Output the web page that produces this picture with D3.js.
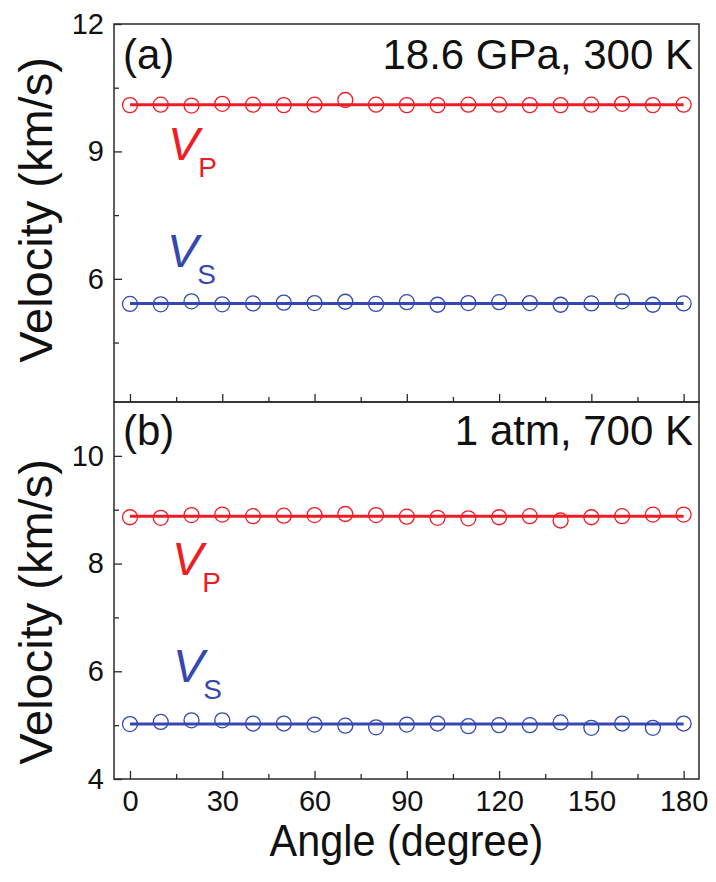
<!DOCTYPE html>
<html>
<head>
<meta charset="utf-8">
<script src="https://cdn.jsdelivr.net/npm/d3@7"></script>
<style>
  html, body { margin: 0; padding: 0; background: #fff; }
  svg { display: block; }
  text { font-family: "Liberation Sans", Arial, Helvetica, sans-serif; }
</style>
</head>
<body>
<svg id="chart" width="716" height="882"></svg>
<script>
// Propagation angle (degrees)
const angles = [0, 10, 20, 30, 40, 50, 60, 70, 80, 90, 100, 110, 120, 130, 140, 150, 160, 170, 180];

// (a) 18.6 GPa, 300 K
const vpHighP = [10.09, 10.10, 10.08, 10.12, 10.10, 10.09, 10.10, 10.21, 10.10, 10.09,
                 10.09, 10.10, 10.10, 10.09, 10.09, 10.10, 10.12, 10.09, 10.10];
const vsHighP = [5.41, 5.40, 5.47, 5.40, 5.42, 5.44, 5.43, 5.46, 5.41, 5.45,
                 5.39, 5.43, 5.45, 5.43, 5.39, 5.42, 5.47, 5.39, 5.42];
const vpFitHighP = 10.10;
const vsFitHighP = 5.42;

// (b) 1 atm, 700 K
const vpHighT = [8.86, 8.85, 8.90, 8.91, 8.88, 8.89, 8.90, 8.92, 8.90, 8.87,
                 8.85, 8.84, 8.86, 8.88, 8.80, 8.86, 8.88, 8.91, 8.91];
const vsHighT = [5.02, 5.06, 5.09, 5.09, 5.03, 5.03, 5.01, 4.99, 4.96, 5.01,
                 5.03, 4.98, 5.00, 5.00, 5.05, 4.95, 5.03, 4.95, 5.03];
const vpFitHighT = 8.88;
const vsFitHighT = 5.02;

// Axis ticks
const xMajorTicks = [0, 30, 60, 90, 120, 150, 180];
const xMinorTicks = [15, 45, 75, 105, 135, 165];
const yMajorTicksA = [6, 9, 12];
const yMinorTicksA = [4.5, 7.5, 10.5];
const yMajorTicksB = [4, 6, 8, 10];
const yMinorTicksB = [5, 7, 9];

const RED = "#ee1d25";
const BLUE = "#3548b2";
const FRAME = "#2a2a2a";

const svg = d3.select("#chart");

const left = 114, right = 699;
const x = d3.scaleLinear().domain([-5.2, 185]).range([left, right]);

const panels = [
  {
    top: 24, bottom: 402, domain: [3.1, 12],
    major: yMajorTicksA, minor: yMinorTicksA, xLabels: false,
    vp: vpHighP, vs: vsHighP, vpFit: vpFitHighP, vsFit: vsFitHighP,
    tag: "(a)", cond: "18.6 GPa, 300 K", textBase: 69,
    vpLabel: [168, 160], vsLabel: [167, 267],
    titleY: 210
  },
  {
    top: 402, bottom: 779, domain: [4, 11],
    major: yMajorTicksB, minor: yMinorTicksB, xLabels: true,
    vp: vpHighT, vs: vsHighT, vpFit: vpFitHighT, vsFit: vsFitHighT,
    tag: "(b)", cond: "1 atm, 700 K", textBase: 445,
    vpLabel: [172, 575], vsLabel: [173, 682],
    titleY: 612
  }
];

panels.forEach(p => {
  const y = d3.scaleLinear().domain(p.domain).range([p.bottom, p.top]);
  const g = svg.append("g");

  // x axis: major and minor ticks pointing into the panel
  const xMajor = d3.axisBottom(x).tickValues(xMajorTicks).tickSize(-8).tickPadding(11)
    .tickFormat(p.xLabels ? d3.format("d") : () => "");
  const xMinor = d3.axisBottom(x).tickValues(xMinorTicks).tickSize(-5).tickFormat(() => "");
  const yMajor = d3.axisLeft(y).tickValues(p.major).tickSize(-8).tickPadding(10)
    .tickFormat(d3.format("d"));
  const yMinor = d3.axisLeft(y).tickValues(p.minor).tickSize(-5).tickFormat(() => "");

  [
    g.append("g").attr("transform", `translate(0,${p.bottom})`).call(xMajor),
    g.append("g").attr("transform", `translate(0,${p.bottom})`).call(xMinor),
    g.append("g").attr("transform", `translate(${left},0)`).call(yMajor),
    g.append("g").attr("transform", `translate(${left},0)`).call(yMinor)
  ].forEach(a => {
    a.select(".domain").remove();
    a.selectAll(".tick line").attr("stroke", FRAME).attr("stroke-width", 1.3);
    a.selectAll(".tick text")
      .attr("fill", "#111")
      .style("font-size", "29px")
      .style("font-family", "'Liberation Sans', Arial, sans-serif");
  });

  // fitted lines
  [[p.vpFit, RED], [p.vsFit, BLUE]].forEach(([v, c]) => {
    g.append("line")
      .attr("x1", x(0)).attr("x2", x(180))
      .attr("y1", y(v)).attr("y2", y(v))
      .attr("stroke", c).attr("stroke-width", 3);
  });

  // measured velocities as open circles
  [[p.vp, RED], [p.vs, BLUE]].forEach(([vals, c]) => {
    g.append("g").selectAll("circle")
      .data(vals.map((v, i) => [angles[i], v]))
      .join("circle")
      .attr("cx", d => x(d[0]))
      .attr("cy", d => y(d[1]))
      .attr("r", 7.5)
      .attr("fill", "none")
      .attr("stroke", c)
      .attr("stroke-width", 1.3);
  });

  // frame
  g.append("rect")
    .attr("x", left).attr("y", p.top)
    .attr("width", right - left).attr("height", p.bottom - p.top)
    .attr("fill", "none").attr("stroke", FRAME).attr("stroke-width", 1.5);

  // panel tag and condition
  g.append("text").attr("x", 123).attr("y", p.textBase)
    .style("font-size", "42px").attr("fill", "#111").text(p.tag);
  g.append("text").attr("x", 693).attr("y", p.textBase)
    .attr("text-anchor", "end")
    .style("font-size", "42px").attr("fill", "#111").text(p.cond);

  // V_P and V_S labels: italic V with an upright subscript
  [[p.vpLabel, "P", RED], [p.vsLabel, "S", BLUE]].forEach(([pos, sub, c]) => {
    const t = g.append("text").attr("x", pos[0]).attr("y", pos[1]).attr("fill", c);
    t.append("tspan").style("font-size", "47px").style("font-style", "italic").text("V");
    t.append("tspan").attr("dx", -1).attr("dy", 17).style("font-size", "28px").text(sub);
  });

  // y-axis title
  g.append("text")
    .attr("transform", `translate(52,${p.titleY}) rotate(-90)`)
    .attr("text-anchor", "middle")
    .style("font-size", "47px").attr("fill", "#111")
    .text("Velocity (km/s)");
});

// x-axis title
svg.append("text")
  .attr("transform", `translate(${(left + right) / 2},856) scale(0.92,1)`)
  .attr("text-anchor", "middle")
  .style("font-size", "45px").attr("fill", "#111")
  .text("Angle (degree)");
</script>
</body>
</html>
